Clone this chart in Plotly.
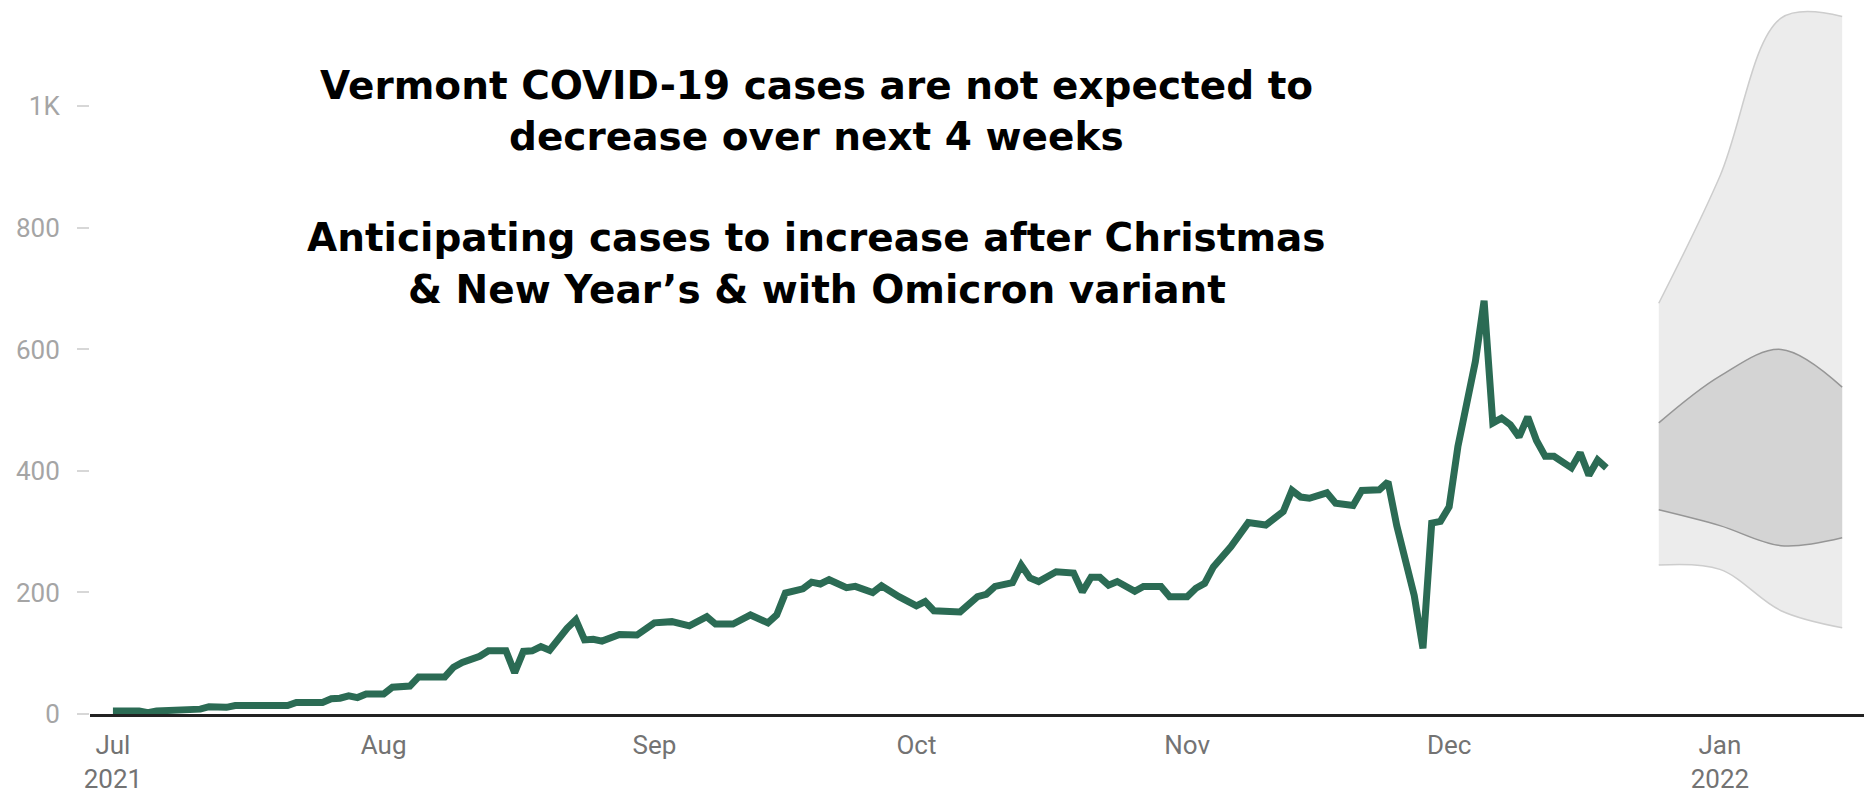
import plotly.graph_objects as go

# daily new cases
case_dates = [
    "2021-07-01", "2021-07-04", "2021-07-05", "2021-07-06", "2021-07-11", "2021-07-12",
    "2021-07-14", "2021-07-15", "2021-07-21", "2021-07-22", "2021-07-25", "2021-07-26",
    "2021-07-27", "2021-07-28", "2021-07-29", "2021-07-30", "2021-08-01", "2021-08-02",
    "2021-08-04", "2021-08-05", "2021-08-08", "2021-08-09", "2021-08-10", "2021-08-11",
    "2021-08-12", "2021-08-13", "2021-08-15", "2021-08-16", "2021-08-17", "2021-08-18",
    "2021-08-19", "2021-08-20", "2021-08-21", "2021-08-22", "2021-08-23", "2021-08-24",
    "2021-08-25", "2021-08-26", "2021-08-28", "2021-08-30", "2021-09-01", "2021-09-03",
    "2021-09-05", "2021-09-07", "2021-09-08", "2021-09-10", "2021-09-12", "2021-09-14",
    "2021-09-15", "2021-09-16", "2021-09-18", "2021-09-19", "2021-09-20", "2021-09-21",
    "2021-09-23", "2021-09-24", "2021-09-26", "2021-09-27", "2021-09-29", "2021-10-01",
    "2021-10-02", "2021-10-03", "2021-10-06", "2021-10-08", "2021-10-09", "2021-10-10",
    "2021-10-12", "2021-10-13", "2021-10-14", "2021-10-15", "2021-10-17", "2021-10-19",
    "2021-10-20", "2021-10-21", "2021-10-22", "2021-10-23", "2021-10-24", "2021-10-26",
    "2021-10-27", "2021-10-29", "2021-10-30", "2021-11-01", "2021-11-02", "2021-11-03",
    "2021-11-04", "2021-11-06", "2021-11-08", "2021-11-10", "2021-11-12", "2021-11-13",
    "2021-11-14", "2021-11-15", "2021-11-17", "2021-11-18", "2021-11-20", "2021-11-21",
    "2021-11-23", "2021-11-24", "2021-11-25", "2021-11-26", "2021-11-27", "2021-11-28",
    "2021-11-29", "2021-11-30", "2021-12-01", "2021-12-02", "2021-12-03", "2021-12-04",
    "2021-12-05", "2021-12-06", "2021-12-07", "2021-12-08", "2021-12-09", "2021-12-10",
    "2021-12-11", "2021-12-12", "2021-12-13", "2021-12-15", "2021-12-16", "2021-12-17",
    "2021-12-18", "2021-12-19",
]
case_values = [
    5, 5, 2, 5, 8, 12,
    11, 14, 14, 19, 19, 25,
    26, 30, 27, 33, 33, 44,
    46, 61, 61, 77, 85, 90,
    95, 104, 104, 68, 103, 104,
    111, 105, 125, 141, 155, 122,
    123, 120, 131, 130, 150, 152,
    145, 160, 148, 148, 163, 150,
    163, 199, 206, 217, 214, 221,
    208, 210, 200, 211, 193, 178,
    185, 170, 168, 193, 197, 210,
    216, 245, 224, 218, 234, 232,
    201, 225, 225, 212, 218, 202,
    210, 210, 193, 193, 207, 215,
    242, 275, 315, 311, 333, 368,
    357, 355, 364, 347, 343, 368,
    369, 382, 310, 255, 195, 108,
    314, 317, 341, 440, 510, 580,
    680, 479, 487, 476, 456, 489,
    450, 424, 424, 405, 430, 393,
    418, 405,
]

# 4 week forecast bands
band_dates = ["2021-12-25", "2022-01-01", "2022-01-08", "2022-01-15"]
outer_upper = [676, 885, 1145, 1148]
inner_upper = [479, 556, 600, 538]
inner_lower = [336, 310, 277, 290]
outer_lower = [245, 238, 170, 142]

tick_dates = ["2021-07-01", "2021-08-01", "2021-09-01", "2021-10-01",
              "2021-11-01", "2021-12-01", "2022-01-01"]
tick_text = ["Jul<br>2021", "Aug", "Sep", "Oct", "Nov", "Dec", "Jan<br>2022"]
y_ticks = [0, 200, 400, 600, 800, 1000]
y_text = ["0", "200", "400", "600", "800", "1K"]

title_lines = [
    "Vermont COVID-19 cases are not expected to",
    "decrease over next 4 weeks",
    "Anticipating cases to increase after Christmas",
    "& New Year’s & with Omicron variant",
]
# vertical centre of each title line, as fraction of plot height from the bottom
title_line_y = [0.880, 0.809, 0.667, 0.595]

fig = go.Figure()

# outer band
fig.add_trace(go.Scatter(x=band_dates, y=outer_lower, mode='lines',
                         line=dict(color='rgb(205,205,205)', width=1.5, shape='spline'),
                         showlegend=False, hoverinfo='skip'))
fig.add_trace(go.Scatter(x=band_dates, y=outer_upper, mode='lines', fill='tonexty',
                         fillcolor='rgb(236,236,236)',
                         line=dict(color='rgb(205,205,205)', width=1.5, shape='spline'),
                         showlegend=False, hoverinfo='skip'))
# inner band
fig.add_trace(go.Scatter(x=band_dates, y=inner_lower, mode='lines',
                         line=dict(color='rgb(150,150,150)', width=1.5, shape='spline'),
                         showlegend=False, hoverinfo='skip'))
fig.add_trace(go.Scatter(x=band_dates, y=inner_upper, mode='lines', fill='tonexty',
                         fillcolor='rgb(212,212,212)',
                         line=dict(color='rgb(150,150,150)', width=1.5, shape='spline'),
                         showlegend=False, hoverinfo='skip'))

fig.add_trace(go.Scatter(x=case_dates, y=case_values, mode='lines',
                         line=dict(color='rgb(43,107,84)', width=7),
                         showlegend=False, name='Cases'))

annotations = []
for i in range(len(title_lines)):
    annotations.append(dict(
        text=title_lines[i],
        xref='paper', yref='paper',
        x=0.4098, y=title_line_y[i],
        xanchor='center', yanchor='middle',
        showarrow=False,
        font=dict(family='DejaVu Sans', size=39, color='black', weight='bold'),
    ))

fig.update_layout(
    width=1864,
    height=794,
    autosize=False,
    margin=dict(l=90, r=0, t=0, b=80),
    paper_bgcolor='white',
    plot_bgcolor='white',
    font=dict(family='Roboto', size=26),
    xaxis=dict(
        type='date',
        range=['2021-06-28 09:00', '2022-01-17 12:00'],
        tickvals=tick_dates,
        ticktext=tick_text,
        tickfont=dict(color='rgb(115,115,115)', size=26),
        showgrid=False,
        zeroline=False,
        showline=True,
        linecolor='rgb(34,34,34)',
        linewidth=2.5,
        ticks='',
        ticklabelstandoff=6,
        automargin=False,
    ),
    yaxis=dict(
        range=[0, 1175],
        tickvals=y_ticks,
        ticktext=y_text,
        tickfont=dict(color='rgb(165,165,165)', size=26),
        showgrid=False,
        zeroline=False,
        showline=False,
        ticks='outside',
        ticklen=12,
        tickcolor='rgb(215,215,215)',
        tickwidth=1.5,
        ticklabelstandoff=12,
        automargin=False,
    ),
    annotations=annotations,
)

# drop the default page margin so the figure sits at the top-left corner
fig.write_html("out.html",
               config={'displayModeBar': False},
               post_script="document.body.style.margin='0';document.body.style.overflow='hidden';")
